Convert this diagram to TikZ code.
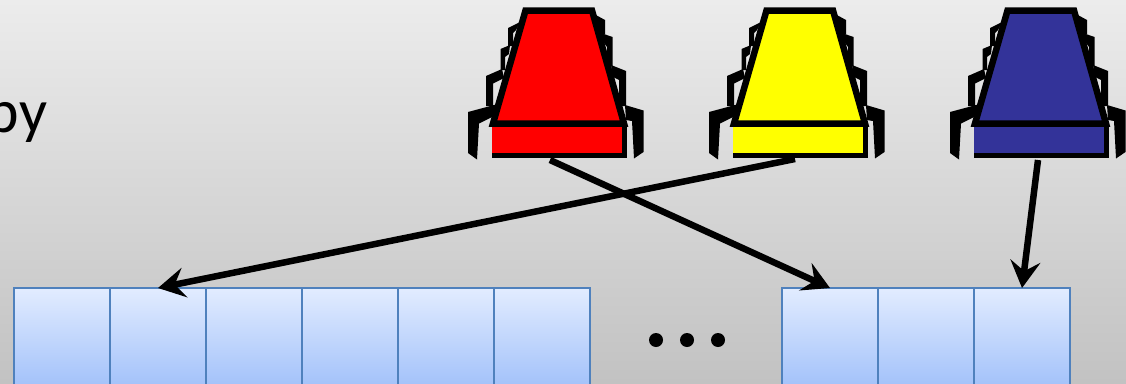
\documentclass[tikz,border=0pt]{standalone}
\usepackage{fontspec}
\setmainfont{Carlito}
\usetikzlibrary{arrows.meta,positioning}
\definecolor{cellline}{HTML}{4F81BD}
\definecolor{chipblue}{HTML}{333399}
\definecolor{chipred}{RGB}{255,0,0}
\definecolor{chipyellow}{RGB}{255,255,0}
\definecolor{cellTop}{HTML}{E2ECFF}
\definecolor{cellBottom}{HTML}{A3C2FA}
\definecolor{bgTop}{HTML}{ECECEC}
\definecolor{bgBottom}{HTML}{C2C2C2}
\tikzset{
  x=1pt,y=-1pt,
  cellbox/.style={draw=cellline,line width=1.5pt,top color=cellTop,bottom color=cellBottom,
    minimum width=96pt,minimum height=98pt,inner sep=0pt,outer sep=0pt,anchor=north west},
  link/.style={line width=6.5pt,-{Stealth[length=27pt,width=30pt,inset=10pt]}},
  dotmark/.style={circle,fill=black,minimum size=14pt,inner sep=0pt,outer sep=0pt},
  bytext/.style={font=\fontsize{62}{65}\selectfont,anchor=base west,inner sep=0pt,outer sep=0pt},
  pics/chip/.style={code={
    % legs: left side
    \fill[black] (468,112)--(496,104.5)--(496,115)--(479,123.5)--(477,159.5)--(468,153)--cycle;
    \fill[black] (486,76)--(502,69)--(504,78)--(493,83.5)--(493,106)--(486,106)--cycle;
    \fill[black] (500.5,49)--(510,45)--(509,54)--(505,57)--(505,70)--(500.5,70)--cycle;
    \fill[black] (508,28)--(520,22)--(516,30)--(513,33)--(513,46)--(508,46)--cycle;
    % legs: right side
    \fill[black] (643.5,110.5)--(625,105)--(626,120)--(632,121)--(634,158.5)--(643.5,152)--cycle;
    \fill[black] (626,71)--(611,65)--(613,77)--(619,80)--(619,106)--(626,106)--cycle;
    \fill[black] (612.5,37)--(601,33)--(604,43)--(607,47)--(607,66)--(612.5,66)--cycle;
    \fill[black] (605,20)--(594,14)--(598,25)--(600,28)--(600,34)--(605,34)--cycle;
    % base
    \fill[black] (492,121) rectangle (627,158);
    \fill[#1] (492,127) rectangle (622.3,152.7);
    % body
    \fill[#1,draw=black,line width=6.5pt,line join=miter] (525.5,10.5)--(592,10.5)--(624,123.5)--(493,123.5)--cycle;
    \fill[black] (492,121) rectangle (627,127);
  }}
}
\begin{document}
\begin{tikzpicture}
\useasboundingbox (0,0) rectangle (1126,383);
\clip (0,0) rectangle (1126,383);
\shade[top color=bgTop,bottom color=bgBottom] (0,0) rectangle (1126,383);

\node[bytext] (bylabel) at (-13,132) {by};

\pic at (0,0) {chip=chipred};
\pic at (241,0) {chip=chipyellow};
\pic at (482,0) {chip=chipblue};
\coordinate (redfoot) at (550,160);
\coordinate (yellowfoot) at (795,159);
\coordinate (bluefoot) at (1038,160);

\node[cellbox] (c1) at (14,288) {};
\node[cellbox] (c2) at (110,288) {};
\node[cellbox] (c3) at (206,288) {};
\node[cellbox] (c4) at (302,288) {};
\node[cellbox] (c5) at (398,288) {};
\node[cellbox] (c6) at (494,288) {};
\node[cellbox] (c7) at (782,288) {};
\node[cellbox] (c8) at (878,288) {};
\node[cellbox] (c9) at (974,288) {};

\node[dotmark] (d1) at (656,340) {};
\node[dotmark] (d2) at (687,340) {};
\node[dotmark] (d3) at (718,340) {};

\draw[link] (redfoot) -- (c7.north);
\draw[link] (yellowfoot) -- (c2.north);
\draw[link] (bluefoot) -- (c9.north);
\end{tikzpicture}
\end{document}
